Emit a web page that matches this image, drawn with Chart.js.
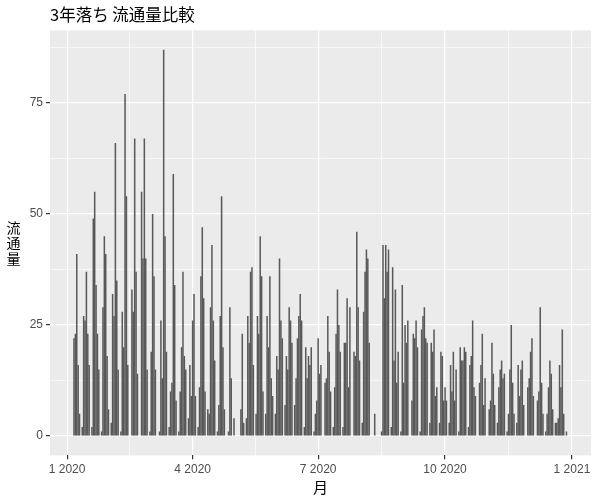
<!DOCTYPE html>
<html>
<head>
<meta charset="utf-8">
<script src="https://cdn.jsdelivr.net/npm/chart.js@4.4.1/dist/chart.umd.min.js"></script>
<style>
  html, body { margin: 0; padding: 0; background: #ffffff; }
</style>
</head>
<body>
<canvas id="miGrafica" width="600" height="500"></canvas>
<script>
// days counted from 2020-01-01 (day 0)
var days = [
  5, 6, 7, 8, 9,
  11, 12, 13, 14, 15, 16,
  18, 19, 20, 21, 22, 23,
  25, 26, 27, 28, 29, 30,
  32, 33, 34, 35, 36, 37,
  39, 40, 41, 42, 43, 44,
  47, 48, 49, 50, 51,
  54, 55, 56, 57, 58,
  60, 61, 62, 63, 64,
  67, 68, 69, 70, 71, 72,
  74, 75, 76, 77, 78, 79,
  81, 82, 83, 84, 85, 86,
  88, 89, 90, 91, 92, 93,
  95, 96, 97, 98, 99, 100,
  102, 103, 104, 105, 106, 107,
  109, 110, 111, 112, 113, 114,
  117, 118, 119, 121,
  126, 127, 128,
  130, 131, 132, 133, 134, 135,
  137, 138, 139, 140, 141, 142,
  144, 145, 146, 147, 148, 149,
  151, 152, 153, 154, 155, 156,
  158, 159, 160, 161, 162, 163,
  165, 166, 167, 168, 169, 170,
  172, 173, 174, 175, 176, 177,
  179, 180, 181, 182, 183, 184,
  187, 188, 189, 190, 191,
  193, 194, 195, 196, 197, 198,
  200, 201, 202, 203, 204, 205,
  208, 209, 210, 211, 212,
  214, 215, 216, 217, 218, 219,
  223,
  228, 229, 230, 231, 232, 233,
  235, 236, 237, 238, 239, 240,
  242, 243, 244, 245, 246, 247,
  250, 251, 252, 253, 254,
  256, 257, 258, 259, 260, 261,
  263, 264, 265, 266, 267, 268,
  270, 271, 272, 273, 274, 275,
  277, 278, 279, 280, 281, 282,
  284, 285, 286, 287, 288, 289,
  291, 292, 293, 294, 295, 296,
  299, 300, 301, 302, 303,
  306, 307, 308, 309, 310,
  312, 313, 314, 315, 316, 317,
  319, 320, 321, 322, 323, 324,
  326, 327, 328, 329, 330, 331,
  334, 335, 336, 337, 338,
  341, 342, 343, 344, 345,
  347, 348, 349, 350, 351, 352,
  354, 355, 356, 357, 358, 359, 360,
  362
];

var volume = [
  22, 23, 41, 16, 5,
  2, 27, 26, 37, 23, 16,
  2, 49, 55, 34, 23, 15,
  1, 29, 45, 41, 18, 6,
  3, 32, 27, 66, 35, 15,
  1, 28, 20, 77, 54, 16,
  33, 28, 67, 37, 14,
  55, 40, 67, 40, 15,
  1, 19, 50, 36, 15,
  1, 26, 13, 87, 45, 19,
  2, 10, 12, 59, 34, 8,
  1, 10, 20, 37, 18, 15,
  4, 16, 9, 26, 32, 9,
  2, 11, 36, 47, 31, 10,
  6, 5, 29, 43, 26, 17,
  1, 7, 27, 54, 20, 6,
  1, 29, 13, 4,
  6, 23, 3,
  4, 27, 21, 37, 38, 16,
  5, 27, 23, 45, 36, 10,
  5, 27, 20, 36, 13, 9,
  5, 18, 15, 40, 26, 22,
  7, 18, 15, 29, 26, 21,
  7, 13, 22, 27, 32, 26,
  2, 20, 13, 18, 16, 20,
  1, 5, 8, 22, 14, 16,
  12, 13, 27, 19, 10,
  2, 11, 23, 33, 25, 19,
  2, 21, 21, 31, 11, 29,
  19, 18, 46, 29, 17,
  3, 28, 37, 42, 40, 21,
  5,
  1, 43, 31, 43, 37, 42,
  2, 38, 17, 33, 12, 19,
  1, 34, 12, 25, 21, 26,
  8, 23, 22, 26, 20,
  1, 24, 27, 29, 22, 21,
  3, 21, 19, 24, 9, 11,
  3, 19, 18, 8, 11, 8,
  3, 16, 10, 19, 8, 15,
  1, 20, 17, 17, 20, 19,
  2, 16, 18, 26, 11, 9,
  12, 16, 23, 7, 13,
  6, 8, 21, 14, 7,
  3, 11, 15, 17, 13, 14,
  1, 5, 15, 25, 12, 5,
  3, 16, 9, 15, 17, 7,
  11, 13, 19, 22, 9,
  8, 10, 29, 12, 5,
  1, 5, 11, 17, 14, 6,
  3, 3, 4, 16, 11, 24, 5,
  1
];

// axis breaks
var xTickDays = [0, 91, 182, 274, 366];
var xTickLabels = ["1 2020", "4 2020", "7 2020", "10 2020", "1 2021"];
var yTicks = [0, 25, 50, 75];

var chartTitle = "3年落ち 流通量比較";
var xTitle = "月";
var yTitle = "流通量";

var FONT = "'Liberation Sans', Arial, 'Noto Sans CJK JP', sans-serif";
var CJK = "'Noto Sans CJK JP', 'Liberation Sans', sans-serif";

function midpoints(arr, step) {
  var out = [];
  for (var i = 0; i < arr.length - 1; i++) out.push((arr[i] + arr[i + 1]) / 2);
  if (step) out.push(arr[arr.length - 1] + step / 2);
  return out;
}
var xMinor = midpoints(xTickDays);
var yMinor = midpoints(yTicks, 25);

var points = days.map(function (d, i) { return { x: d, y: volume[i] }; });

// grey panel, title, stacked y title
var ggPanel = {
  id: "ggPanel",
  beforeDraw: function (chart) {
    var c = chart.ctx, a = chart.chartArea;
    c.save();
    c.fillStyle = "#ffffff";
    c.fillRect(0, 0, chart.width, chart.height);
    c.fillStyle = "#EBEBEB";
    c.fillRect(a.left, a.top, a.right - a.left, a.bottom - a.top);
    c.restore();
  },
  afterDraw: function (chart) {
    var c = chart.ctx, a = chart.chartArea;
    c.save();
    c.fillStyle = "#000000";
    c.font = "16.5px " + CJK;
    c.textAlign = "left";
    c.textBaseline = "middle";
    c.fillText(chartTitle, a.left, 15);
    c.font = "14px " + CJK;
    c.textAlign = "center";
    var mid = (a.top + a.bottom) / 2;
    var chars = Array.from(yTitle);
    for (var i = 0; i < chars.length; i++) {
      c.fillText(chars[i], 13.5, mid + (i - (chars.length - 1) / 2) * 15.5);
    }
    c.restore();
  }
};

function tickIsMajor(list, c) {
  return !!(c && c.tick && list.indexOf(c.tick.value) !== -1);
}

var ctx = document.getElementById("miGrafica").getContext("2d");
var myChart = new Chart(ctx, {
  type: "bar",
  data: {
    datasets: [{
      data: points,
      backgroundColor: "#595959",
      borderWidth: 0,
      barPercentage: 1.1,
      categoryPercentage: 1.0
    }]
  },
  options: {
    responsive: false,
    devicePixelRatio: 1,
    animation: false,
    layout: { padding: { top: 30.4, right: 9, bottom: 0, left: 0 } },
    plugins: {
      legend: { display: false },
      tooltip: { enabled: false }
    },
    scales: {
      x: {
        type: "linear",
        min: -12.4,
        max: 379.8,
        offset: false,
        afterBuildTicks: function (scale) {
          scale.ticks = xTickDays.concat(xMinor).sort(function (a, b) { return a - b; })
            .map(function (v) { return { value: v }; });
        },
        afterFit: function (scale) { scale.height = 44.7; },
        border: { display: false },
        grid: {
          offset: false,
          color: "#ffffff",
          lineWidth: function (c) { return tickIsMajor(xTickDays, c) ? 1.2 : 0.6; },
          tickColor: function (c) { return tickIsMajor(xTickDays, c) ? "#333333" : "rgba(0,0,0,0)"; },
          tickLength: 4,
          drawTicks: true
        },
        ticks: {
          autoSkip: false,
          maxRotation: 0,
          padding: 3,
          color: "#4D4D4D",
          font: { size: 12, family: FONT },
          callback: function (v) {
            var i = xTickDays.indexOf(v);
            return i === -1 ? "" : xTickLabels[i];
          }
        },
        title: {
          display: true,
          text: xTitle,
          color: "#000000",
          font: { size: 15, family: CJK },
          padding: { top: 0, bottom: 4 }
        }
      },
      y: {
        min: -4.35,
        max: 91.35,
        afterBuildTicks: function (scale) {
          scale.ticks = yTicks.concat(yMinor).sort(function (a, b) { return a - b; })
            .map(function (v) { return { value: v }; });
        },
        afterFit: function (scale) { scale.width = 50; },
        border: { display: false },
        grid: {
          color: "#ffffff",
          lineWidth: function (c) { return tickIsMajor(yTicks, c) ? 1.2 : 0.6; },
          tickColor: function (c) { return tickIsMajor(yTicks, c) ? "#333333" : "rgba(0,0,0,0)"; },
          tickLength: 4,
          drawTicks: true
        },
        ticks: {
          autoSkip: false,
          padding: 3,
          color: "#4D4D4D",
          font: { size: 12, family: FONT },
          callback: function (v) {
            return yTicks.indexOf(v) !== -1 ? String(v) : "";
          }
        }
      }
    }
  },
  plugins: [ggPanel]
});
</script>
</body>
</html>
